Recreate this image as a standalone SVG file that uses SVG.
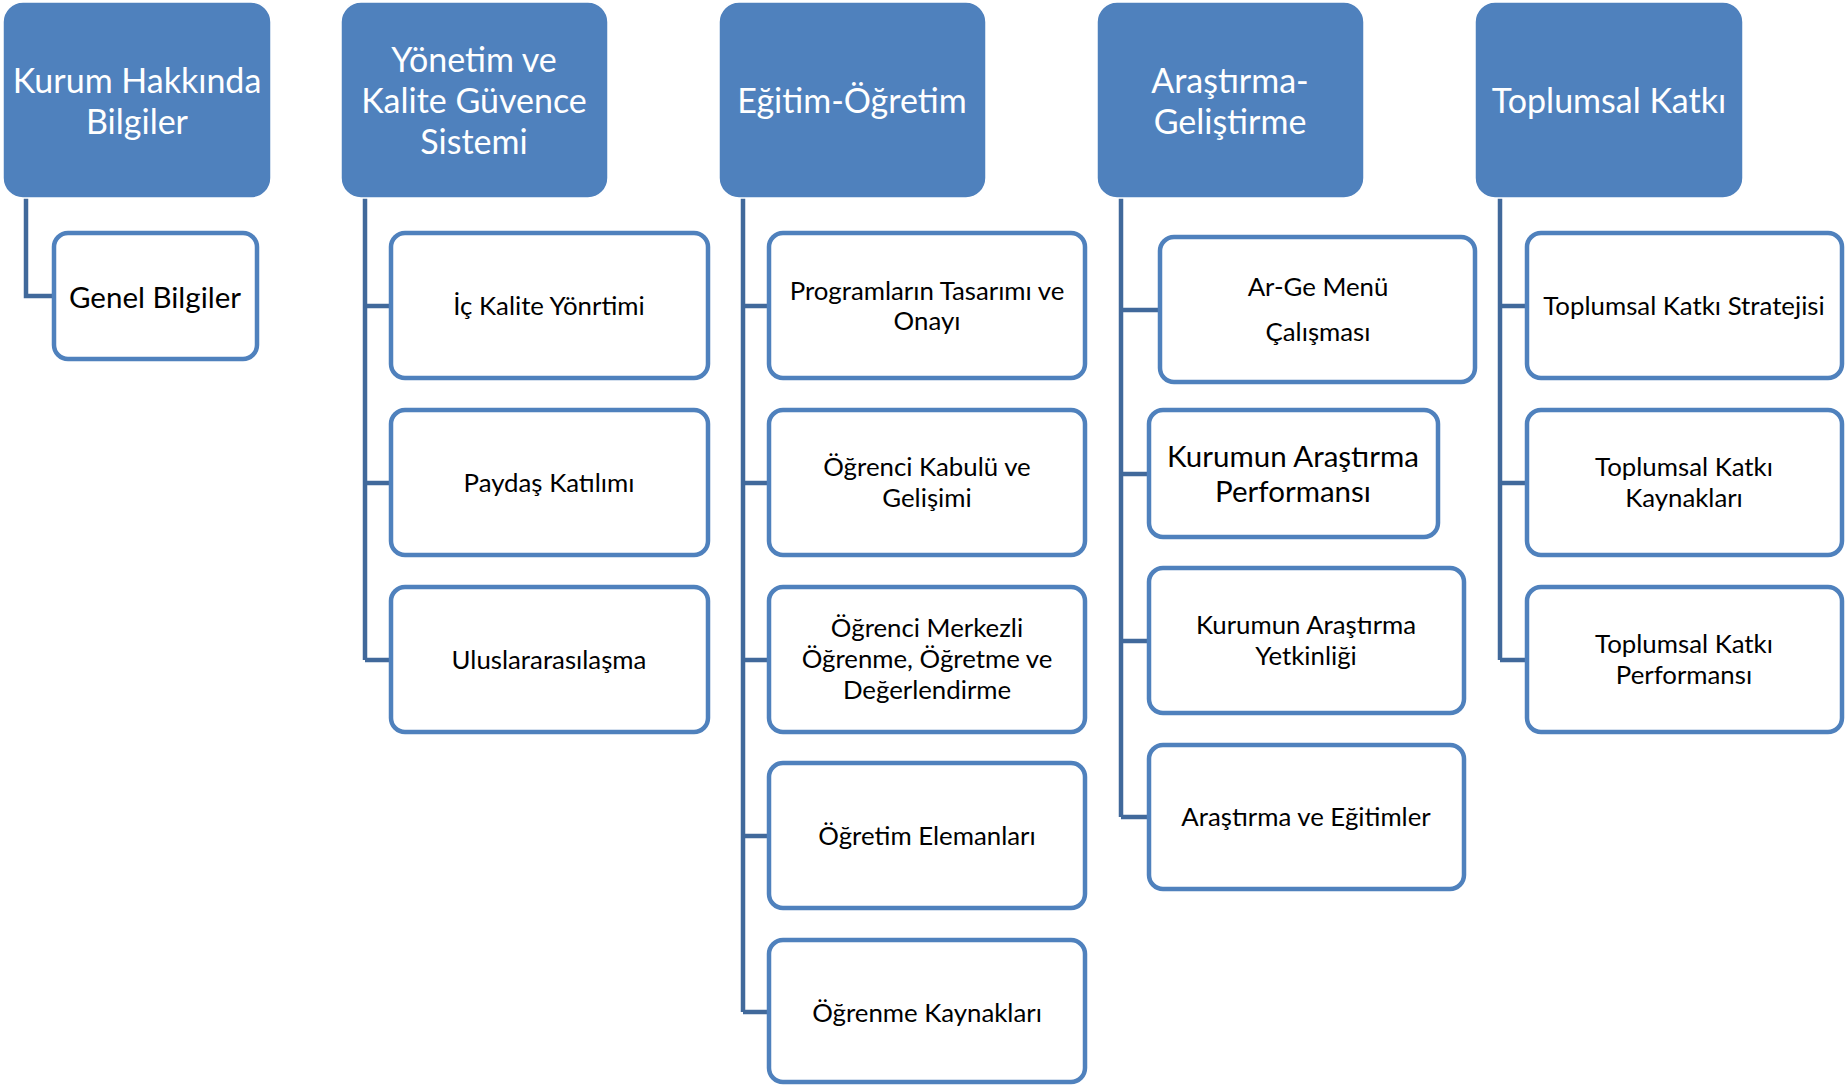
<svg xmlns="http://www.w3.org/2000/svg" width="1847" height="1085" viewBox="0 0 1847 1085">
<style>
.hdr{fill:#4F81BD;stroke:#FFFFFF;stroke-width:1.5}
.box{fill:#FFFFFF;stroke:#4F81BD;stroke-width:4.5}
.con{fill:none;stroke:#41699B;stroke-width:4.5}
.ht{font-family:Lato,"Liberation Sans",sans-serif;font-size:34px;fill:#FFFFFF;text-anchor:middle;dominant-baseline:central}
.ct{font-family:Lato,"Liberation Sans",sans-serif;font-size:25.8px;fill:#000000;text-anchor:middle;dominant-baseline:central}
</style>
<rect width="1847" height="1085" fill="#FFFFFF"/>
<g id="connectors">
<path class="con" d="M26,198 V296 H54"/>
<path class="con" d="M365,198 V660 M365,306 H391 M365,483 H391 M365,660 H391"/>
<path class="con" d="M743,198 V1012 M743,306 H769 M743,483 H769 M743,660 H769 M743,836 H769 M743,1012 H769"/>
<path class="con" d="M1121,198 V817 M1121,310 H1160 M1121,474 H1149 M1121,641 H1149 M1121,817 H1149"/>
<path class="con" d="M1500,198 V660 M1500,306 H1527 M1500,483 H1527 M1500,660 H1527"/>
</g>
<g id="h1"><rect class="hdr" x="3" y="2" width="268" height="196" rx="20"/><text class="ht" x="137" y="79">Kurum Hakkında</text><text class="ht" x="137" y="120">Bilgiler</text></g>
<g id="h2"><rect class="hdr" x="341" y="2" width="267" height="196" rx="20"/><text class="ht" x="474" y="58">Yönetim ve</text><text class="ht" x="474" y="99">Kalite Güvence</text><text class="ht" x="474" y="140">Sistemi</text></g>
<g id="h3"><rect class="hdr" x="719" y="2" width="267" height="196" rx="20"/><text class="ht" x="852" y="99">Eğitim-Öğretim</text></g>
<g id="h4"><rect class="hdr" x="1097" y="2" width="267" height="196" rx="20"/><text class="ht" x="1230" y="79">Araştırma-</text><text class="ht" x="1230" y="120">Geliştirme</text></g>
<g id="h5"><rect class="hdr" x="1475" y="2" width="268" height="196" rx="20"/><text class="ht" x="1609" y="99">Toplumsal Katkı</text></g>

<g id="c1a"><rect class="box" x="54" y="233" width="203" height="126" rx="14"/><text class="ct" x="155" y="296" style="font-size:29.5px">Genel Bilgiler</text></g>

<g id="c2a"><rect class="box" x="391" y="233" width="317" height="145" rx="14"/><text class="ct" x="549" y="305">İç Kalite Yönrtimi</text></g>
<g id="c2b"><rect class="box" x="391" y="410" width="317" height="145" rx="14"/><text class="ct" x="549" y="482">Paydaş Katılımı</text></g>
<g id="c2c"><rect class="box" x="391" y="587" width="317" height="145" rx="14"/><text class="ct" x="549" y="659">Uluslararasılaşma</text></g>

<g id="c3a"><rect class="box" x="769" y="233" width="316" height="145" rx="14"/><text class="ct" x="927" y="290">Programların Tasarımı ve</text><text class="ct" x="927" y="320">Onayı</text></g>
<g id="c3b"><rect class="box" x="769" y="410" width="316" height="145" rx="14"/><text class="ct" x="927" y="466">Öğrenci Kabulü ve</text><text class="ct" x="927" y="497">Gelişimi</text></g>
<g id="c3c"><rect class="box" x="769" y="587" width="316" height="145" rx="14"/><text class="ct" x="927" y="627">Öğrenci Merkezli</text><text class="ct" x="927" y="658">Öğrenme, Öğretme ve</text><text class="ct" x="927" y="689">Değerlendirme</text></g>
<g id="c3d"><rect class="box" x="769" y="763" width="316" height="145" rx="14"/><text class="ct" x="927" y="835">Öğretim Elemanları</text></g>
<g id="c3e"><rect class="box" x="769" y="940" width="316" height="142" rx="14"/><text class="ct" x="927" y="1012">Öğrenme Kaynakları</text></g>

<g id="c4a"><rect class="box" x="1160" y="237" width="315" height="145" rx="14"/><text class="ct" x="1318" y="286">Ar-Ge Menü</text><text class="ct" x="1318" y="331">Çalışması</text></g>
<g id="c4b"><rect class="box" x="1149" y="410" width="289" height="127" rx="14"/><text class="ct" x="1293" y="455" style="font-size:29.5px">Kurumun Araştırma</text><text class="ct" x="1293" y="490" style="font-size:29.5px">Performansı</text></g>
<g id="c4c"><rect class="box" x="1149" y="568" width="315" height="145" rx="14"/><text class="ct" x="1306" y="624">Kurumun Araştırma</text><text class="ct" x="1306" y="655">Yetkinliği</text></g>
<g id="c4d"><rect class="box" x="1149" y="745" width="315" height="144" rx="14"/><text class="ct" x="1306" y="816">Araştırma ve Eğitimler</text></g>

<g id="c5a"><rect class="box" x="1527" y="233" width="315" height="145" rx="14"/><text class="ct" x="1684" y="305">Toplumsal Katkı Stratejisi</text></g>
<g id="c5b"><rect class="box" x="1527" y="410" width="315" height="145" rx="14"/><text class="ct" x="1684" y="466">Toplumsal Katkı</text><text class="ct" x="1684" y="497">Kaynakları</text></g>
<g id="c5c"><rect class="box" x="1527" y="587" width="315" height="145" rx="14"/><text class="ct" x="1684" y="643">Toplumsal Katkı</text><text class="ct" x="1684" y="674">Performansı</text></g>
</svg>
